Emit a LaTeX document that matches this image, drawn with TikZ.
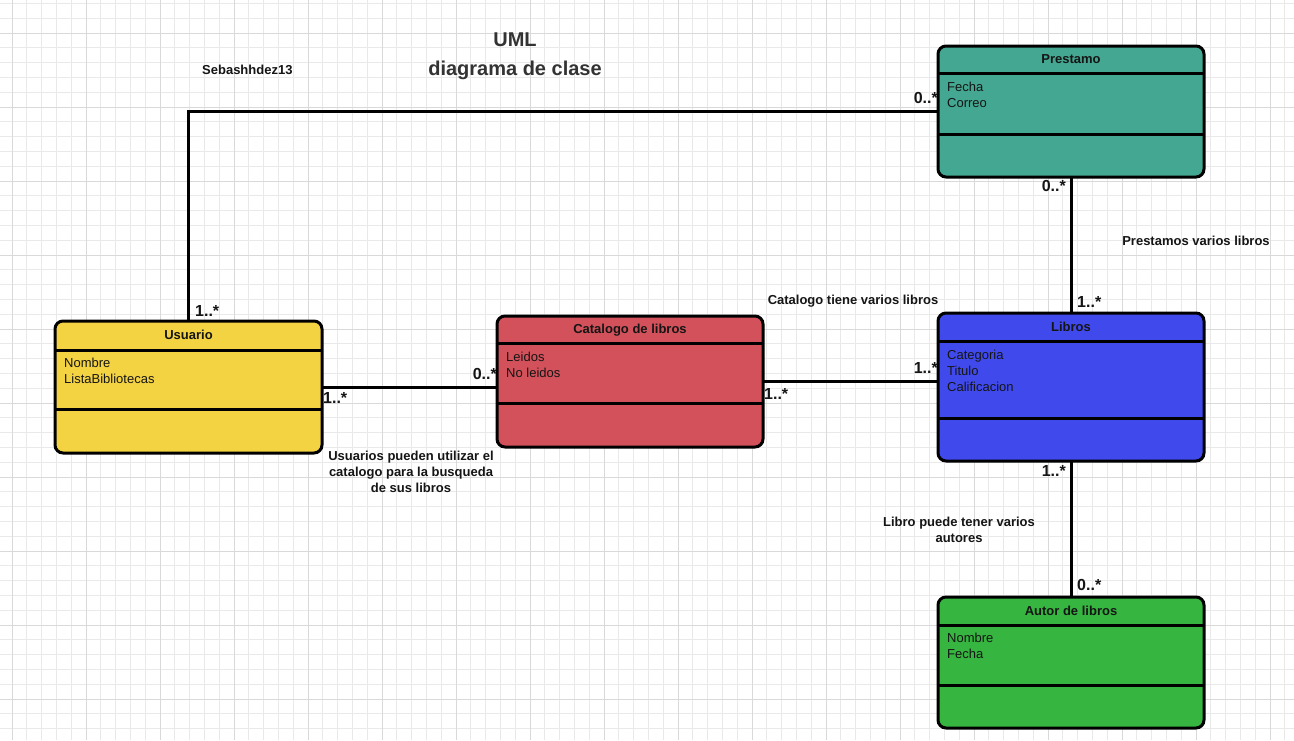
\documentclass[tikz,border=0pt]{standalone}
\usepackage{fontspec}
\setmainfont{Liberation Sans}
\definecolor{gridminor}{HTML}{E9E9E9}
\definecolor{gridmajor}{HTML}{D9D9D9}
\definecolor{cteal}{HTML}{43A791}
\definecolor{cyellow}{HTML}{F4D342}
\definecolor{cred}{HTML}{D2515A}
\definecolor{cblue}{HTML}{404AEC}
\definecolor{cgreen}{HTML}{36B540}
\definecolor{titlegray}{HTML}{333333}
\definecolor{inktext}{HTML}{151515}
\begin{document}
\begin{tikzpicture}[x=1pt,y=-1pt,
  classbox/.style={draw=black, line width=3pt, rounded corners=8pt, anchor=north west,
    inner sep=0pt, outer sep=0pt},
  divider/.style={draw=black, line width=3pt},
  conn/.style={draw=black, line width=3pt},
  ctitle/.style={anchor=base, inner sep=0pt, font=\fontsize{13}{16}\selectfont\bfseries, text=inktext},
  attr/.style={anchor=base west, inner sep=0pt, font=\fontsize{13}{16}\selectfont, text=inktext},
  mult/.style={inner sep=0pt, font=\fontsize{16}{19}\selectfont\bfseries, text=inktext},
  note/.style={inner sep=0pt, font=\fontsize{13}{16}\selectfont\bfseries, text=inktext, align=center},
  gmin/.style={draw=gridminor, line width=0.8pt},
  gmaj/.style={draw=gridmajor, line width=1pt}]
\useasboundingbox (0,0) rectangle (1294,740);
\fill[white] (0,0) rectangle (1294,740);
% grid
\foreach \k in {-1,...,86} {\draw[gmin] ({12+14.8*\k},0) -- ({12+14.8*\k},740);}
\foreach \k in {-3,...,48} {\draw[gmin] (0,{33+14.8*\k}) -- (1294,{33+14.8*\k});}
\foreach \k in {0,...,17} {\draw[gmaj] ({12+74*\k},0) -- ({12+74*\k},740);}
\foreach \k in {0,...,9} {\draw[gmaj] (0,{33+74*\k}) -- (1294,{33+74*\k});}

% titles
\node[anchor=base, inner sep=0pt, font=\fontsize{20}{24}\selectfont\bfseries, text=titlegray] (uml) at (515,46) {UML};
\node[anchor=base, inner sep=0pt, font=\fontsize{20}{24}\selectfont\bfseries, text=titlegray] (diag) at (515,75) {diagrama de clase};
\node[anchor=base west, inner sep=0pt, font=\fontsize{13}{16}\selectfont\bfseries, text=inktext] (autorname) at (202,74) {Sebashhdez13};

% classes
\node[classbox, fill=cteal, minimum width=266pt, minimum height=131pt] (prestamo) at (938,46) {};
\draw[divider] (938,73) -- (1204,73);
\draw[divider] (938,134) -- (1204,134);
\node[ctitle] (prestamo-t) at (1071,63) {Prestamo};
\node[attr] (prestamo-a1) at (947,91) {Fecha};
\node[attr] (prestamo-a2) at (947,107) {Correo};

\node[classbox, fill=cyellow, minimum width=267pt, minimum height=132pt] (usuario) at (55,321) {};
\draw[divider] (55,350) -- (322,350);
\draw[divider] (55,409) -- (322,409);
\node[ctitle] (usuario-t) at (188.5,339) {Usuario};
\node[attr] (usuario-a1) at (64,367) {Nombre};
\node[attr] (usuario-a2) at (64,383) {ListaBibliotecas};

\node[classbox, fill=cred, minimum width=266pt, minimum height=131pt] (catalogo) at (497,316) {};
\draw[divider] (497,343) -- (763,343);
\draw[divider] (497,403) -- (763,403);
\node[ctitle] (catalogo-t) at (630,333) {Catalogo de libros};
\node[attr] (catalogo-a1) at (506,361) {Leidos};
\node[attr] (catalogo-a2) at (506,377) {No leidos};

\node[classbox, fill=cblue, minimum width=266pt, minimum height=148pt] (libros) at (938,313) {};
\draw[divider] (938,341) -- (1204,341);
\draw[divider] (938,418) -- (1204,418);
\node[ctitle] (libros-t) at (1071,331) {Libros};
\node[attr] (libros-a1) at (947,359) {Categoria};
\node[attr] (libros-a2) at (947,375) {Titulo};
\node[attr] (libros-a3) at (947,391) {Calificacion};

\node[classbox, fill=cgreen, minimum width=266pt, minimum height=131pt] (autor) at (938,597) {};
\draw[divider] (938,625) -- (1204,625);
\draw[divider] (938,685) -- (1204,685);
\node[ctitle] (autor-t) at (1071,615) {Autor de libros};
\node[attr] (autor-a1) at (947,642) {Nombre};
\node[attr] (autor-a2) at (947,658) {Fecha};

% connectors
\draw[conn] (usuario.north) |- (prestamo.west);
\draw[conn] (usuario.east) -- (usuario.east -| catalogo.west);
\draw[conn] (catalogo.east) -- (catalogo.east -| libros.west);
\draw[conn] (prestamo.south) -- (libros.north);
\draw[conn] (libros.south) -- (autor.north);

% multiplicities
\node[mult, anchor=base east] (m1) at (938,103) {0..*};
\node[mult, anchor=base east] (m2) at (1066,191) {0..*};
\node[mult, anchor=base west] (m3) at (1077,307) {1..*};
\node[mult, anchor=base west] (m4) at (195,316) {1..*};
\node[mult, anchor=base west] (m5) at (323,403) {1..*};
\node[mult, anchor=base east] (m6) at (497,379) {0..*};
\node[mult, anchor=base west] (m7) at (764,399) {1..*};
\node[mult, anchor=base east] (m8) at (938,373) {1..*};
\node[mult, anchor=base east] (m9) at (1066,476) {1..*};
\node[mult, anchor=base west] (m10) at (1077,590) {0..*};

% notes
\node[note, anchor=base] (n1) at (1196,245) {Prestamos varios libros};
\node[note, anchor=base] (n2) at (853,304) {Catalogo tiene varios libros};
\node[note, anchor=north] (n3) at (411,451) {Usuarios pueden utilizar el\\catalogo para la busqueda\\de sus libros};
\node[note, anchor=north] (n4) at (959,516.5) {Libro puede tener varios\\autores};
\end{tikzpicture}
\end{document}
